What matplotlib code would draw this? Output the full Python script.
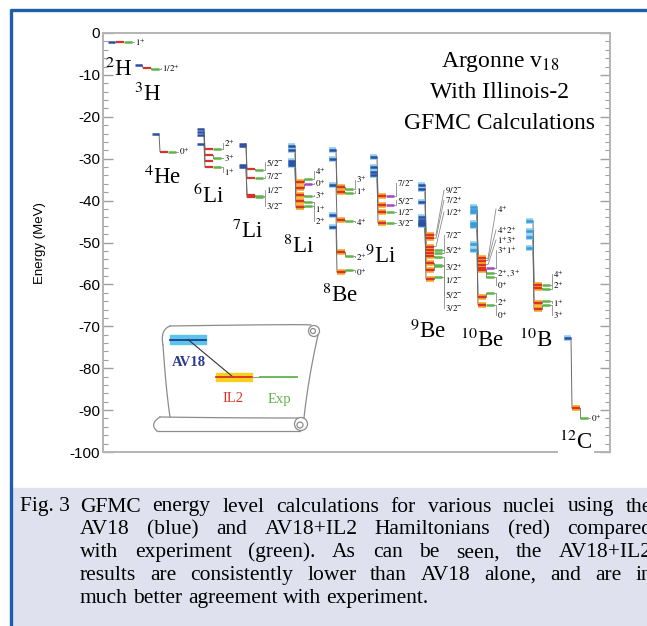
import re
import numpy as np
import matplotlib
matplotlib.use("Agg")
import matplotlib.pyplot as plt
from matplotlib.patches import Rectangle, Circle

plt.rcParams["font.family"] = ["Liberation Serif", "DejaVu Serif"]
plt.rcParams["mathtext.fontset"] = "stix"
plt.rcParams["axes.unicode_minus"] = False

# energies in MeV: AV18 (blue), AV18+IL2 (red), experiment (green); None = not measured
H2_SPIN = ["1+"]
H2_AV18 = [-2.2]
H2_IL2 = [-2.2]
H2_EXP = [-2.2]

H3_SPIN = ["1/2+"]
H3_AV18 = [-7.6]
H3_IL2 = [-8.3]
H3_EXP = [-8.5]

HE4_SPIN = ["0+"]
HE4_AV18 = [-24.1]
HE4_IL2 = [-28.3]
HE4_EXP = [-28.3]

LI6_SPIN = ["2+", "3+", "", "1+"]
LI6_AV18 = [-23.0, -23.7, -24.4, -26.6]
LI6_IL2 = [-27.8, -29.2, -30.6, -32.0]
LI6_EXP = [-27.7, -29.8, None, -32.0]

LI7_SPIN = ["5/2-", "7/2-", "1/2-", "3/2-"]
LI7_AV18 = [-26.4, -27.0, -31.6, -32.0]
LI7_IL2 = [-32.4, -34.5, -38.6, -39.2]
LI7_EXP = [-32.6, -34.6, -38.8, -39.2]

LI8_SPIN = ["4+", "0+", "3+", "1+", "2+"]
LI8_AV18 = [-27.0, -28.0, -30.5, -31.0, -31.6]
LI8_IL2 = [-35.5, -37.0, -38.7, -40.2, -41.6]
LI8_EXP = [-34.8, -36.0, -39.0, -40.3, -41.3]

BE8_SPIN = ["3+", "1+", "4+", "2+", "0+"]
BE8_AV18 = [-27.9, -30.0, -36.3, -43.4, -46.3]
BE8_IL2 = [-36.8, -38.0, -44.6, -52.3, -57.0]
BE8_EXP = [-37.2, -38.3, -44.9, -53.3, -56.5]

LI9_SPIN = ["7/2-", "5/2-", "1/2-", "3/2-"]
LI9_AV18 = [-29.6, -32.0, -33.2, -33.9]
LI9_IL2 = [-39.0, -41.0, -42.8, -45.3]
LI9_EXP = [-39.0, -41.0, -42.7, -45.3]

BE9_SPIN = ["9/2-", "7/2+", "1/2+", "7/2-", "5/2+", "3/2+", "1/2-", "5/2-", "3/2-"]
BE9_AV18 = [-36.3, -37.2, -40.3, -44.0, -44.6, -45.0, -45.3, -45.5, -45.8]
BE9_IL2 = [-48.2, -49.0, -51.0, -51.8, -52.4, -53.2, -55.0, -56.6, -58.7]
BE9_EXP = [None, None, None, -51.8, -52.6, -53.5, -55.4, -55.7, -58.2]

BE10_SPIN = ["4+", "4+2+", "1+3+", "3+1+", "2+,3+", "0+", "2+", "0+"]
BE10_AV18 = [-41.5, -42.3, -42.8, -45.3, -45.6, -46.0, -50.3, -51.8]
BE10_IL2 = [-53.8, -54.3, -55.3, -56.0, -56.3, -56.6, -63.0, -64.8]
BE10_EXP = [None, None, None, -56.0, -57.3, -58.3, -62.0, -65.0]

B10_SPIN = ["4+", "2+", "1+", "3+"]
B10_AV18 = [-44.9, -47.2, -48.7, -51.3]
B10_IL2 = [-60.1, -60.9, -64.4, -65.8]
B10_EXP = [-60.1, -61.2, -64.0, -64.8]

C12_SPIN = ["0+"]
C12_AV18 = [-72.8]
C12_IL2 = [-89.5]
C12_EXP = [-91.9]

NUCLEI = [
    ("2H", r"$^{2}$H", H2_SPIN, H2_AV18, H2_IL2, H2_EXP),
    ("3H", r"$^{3}$H", H3_SPIN, H3_AV18, H3_IL2, H3_EXP),
    ("4He", r"$^{4}$He", HE4_SPIN, HE4_AV18, HE4_IL2, HE4_EXP),
    ("6Li", r"$^{6}$Li", LI6_SPIN, LI6_AV18, LI6_IL2, LI6_EXP),
    ("7Li", r"$^{7}$Li", LI7_SPIN, LI7_AV18, LI7_IL2, LI7_EXP),
    ("8Li", r"$^{8}$Li", LI8_SPIN, LI8_AV18, LI8_IL2, LI8_EXP),
    ("8Be", r"$^{8}$Be", BE8_SPIN, BE8_AV18, BE8_IL2, BE8_EXP),
    ("9Li", r"$^{9}$Li", LI9_SPIN, LI9_AV18, LI9_IL2, LI9_EXP),
    ("9Be", r"$^{9}$Be", BE9_SPIN, BE9_AV18, BE9_IL2, BE9_EXP),
    ("10Be", r"$^{10}$Be", BE10_SPIN, BE10_AV18, BE10_IL2, BE10_EXP),
    ("10B", r"$^{10}$B", B10_SPIN, B10_AV18, B10_IL2, B10_EXP),
    ("12C", r"$^{12}$C", C12_SPIN, C12_AV18, C12_IL2, C12_EXP),
]

# layout: column x (pixels), where spin labels and nucleus names sit (energy)
COL_X = {"2H": 108, "3H": 135, "4He": 152, "6Li": 197, "7Li": 239, "8Li": 288,
         "8Be": 329, "9Li": 370, "9Be": 418, "10Be": 470, "10B": 526, "12C": 564}
LABEL_E = {
    "2H": [-2.2], "3H": [-8.4], "4He": [-28.3],
    "6Li": [-26.3, -29.8, None, -33.2],
    "7Li": [-30.8, -34.1, -37.5, -41.3],
    "8Li": [-32.9, -35.8, -38.7, -42.0, -44.9],
    "8Be": [-35.0, -37.7, -45.1, -53.5, -57.0],
    "9Li": [-35.8, -39.9, -42.7, -45.3],
    "9Be": [-37.5, -39.9, -42.7, -48.2, -51.8, -55.8, -58.9, -62.5, -65.6],
    "10Be": [-42.0, -47.0, -49.4, -51.8, -57.3, -60.1, -64.2, -67.3],
    "10B": [-57.6, -60.3, -64.4, -67.3],
    "12C": [-91.9],
}
NAME_POS = {"2H": (119, -8.8), "3H": (148, -14.6), "4He": (163, -34.4),
            "6Li": (209, -38.9), "7Li": (248, -47.3), "8Li": (299, -50.9),
            "8Be": (340, -62.6), "9Li": (381, -53.3), "9Be": (428, -71.2),
            "10Be": (482, -73.3), "10B": (536, -73.3), "12C": (576, -97.6)}
PURPLE = {"8Li": [1], "9Li": [0, 1], "10Be": [3]}
HEAVY = ["8Li", "8Be", "9Li", "9Be", "10Be", "10B", "12C"]

BLUE = "#2c4fa3"
LBLUE = "#3a9ad8"
RED = "#d8322a"
GREEN = "#5db548"
PURP = "#a445c4"
GRAY = "#6a6a6a"


def spin_tex(s):
    return "$" + re.sub(r"([+-])", r"^{\1}", s) + "$"


fig = plt.figure(figsize=(6.47, 6.26), dpi=100)
ax = fig.add_axes([103 / 647, 1 - 452 / 626, 507 / 647, 419 / 626])
ax.set_xlim(103, 610)
ax.set_ylim(-100, 0)

for key, name, spins, av, il, ex in NUCLEI:
    x0 = COL_X[key]
    xr, xg, xl = x0 + 8, x0 + 16, x0 + 27
    heavy = key in HEAVY
    bcol = LBLUE if key in ("10Be", "10B") else BLUE
    for i, s in enumerate(spins):
        eb, er, eg = av[i], il[i], ex[i]
        ax.plot([x0 + 7, xr], [eb, er], color=GRAY, lw=0.7, zorder=2)
        if heavy:
            ax.hlines(eb, x0, x0 + 7, color="#8ccdf0", lw=4, zorder=3)
            ax.hlines(er, xr, xr + 8, color="#f6a623", lw=4, zorder=3)
        ax.hlines(eb, x0, x0 + 7, color=bcol, lw=1.8, zorder=4)
        ax.hlines(er, xr, xr + 8, color=RED, lw=1.6, zorder=4)
        ex_end, ee = xr + 8, er
        if eg is not None:
            gcol = PURP if i in PURPLE.get(key, []) else GREEN
            ax.plot([xr + 8, xg], [er, eg], color=GRAY, lw=0.6, zorder=2)
            ax.hlines(eg, xg, xg + 8, color=gcol, lw=1.8, zorder=4)
            ex_end, ee = xg + 8, eg
        if s:
            le = LABEL_E[key][i]
            ax.plot([ex_end, ex_end + 2, xl - 1], [ee, ee, le], color="#8a8a8a",
                    lw=0.6, zorder=2)
            ax.text(xl, le, spin_tex(s), fontsize=6.5, va="center", ha="left")
    nx, ny = NAME_POS[key]
    bb = dict(facecolor="white", edgecolor="none", pad=1) if key == "12C" else None
    ax.text(nx, ny, name, fontsize=16.5, ha="center", va="center", bbox=bb,
            clip_on=False, zorder=6)

ax.text(500, -7.0, r"Argonne v$_{18}$", fontsize=17, ha="center", va="center")
ax.text(500, -14.2, "With Illinois-2", fontsize=17, ha="center", va="center")
ax.text(500, -21.5, "GFMC Calculations", fontsize=17, ha="center", va="center")

for sp in ax.spines.values():
    sp.set_color("#b4b4b4")
    sp.set_linewidth(1.4)
ax.set_xticks([])
ax.set_yticks(np.arange(-100, 1, 10))
ax.set_yticks(np.arange(-100, 1, 2), minor=True)
ax.tick_params(axis="y", which="both", direction="in", left=True, right=True,
               color="#a0a0a0")
ax.tick_params(axis="y", which="major", length=7, width=1.0, labelsize=11, pad=2)
ax.tick_params(axis="y", which="minor", length=3.5, width=0.8)
for t in ax.get_yticklabels():
    t.set_fontfamily("Liberation Sans")

# overlay in pixel units for frame, caption and the legend scroll
fax = fig.add_axes([0, 0, 1, 1])
fax.set_xlim(0, 647)
fax.set_ylim(626, 0)
fax.axis("off")
fax.patch.set_visible(False)

fax.add_patch(Rectangle((12, 488), 640, 140, color="#dfe2ee", zorder=0))
fax.plot([11, 11], [9, 626], color="#1d5ea8", lw=2.4, solid_capstyle="butt")
fax.plot([10, 647], [10, 10], color="#1d5ea8", lw=2.4, solid_capstyle="butt")
fax.text(40, 243, "Energy (MeV)", rotation=90, fontsize=9.5, ha="center",
         va="center", family="Liberation Sans")


def bez(p0, p1, p2, n=30):
    t = np.linspace(0, 1, n)[:, None]
    pts = (1 - t) ** 2 * np.array(p0) + 2 * (1 - t) * t * np.array(p1) + t ** 2 * np.array(p2)
    return pts[:, 0], pts[:, 1]


sc = "#8c8c8c"
for seg in [((170, 326), (308, 324), (311, 325)),
            ((170, 326), (160, 330), (163, 345)),
            ((163, 345), (166, 390), (170, 417)),
            ((318, 335), (308, 380), (304, 418)),
            ((160, 417), (230, 418), (298, 418)),
            ((157, 431), (230, 431), (300, 431)),
            ((160, 417), (149, 424), (157, 431))]:
    xs, ys = bez(*seg)
    fax.plot(xs, ys, color=sc, lw=0.9)
for c, r in [((314, 331), 5.5), ((313, 331), 2.5), ((301, 424), 6.5), ((300, 425), 3)]:
    fax.add_patch(Circle(c, r, fill=False, edgecolor=sc, lw=0.9))

fax.add_patch(Rectangle((170, 335), 36, 9, color="#5cc3ea", zorder=2))
fax.plot([170, 206], [339.5, 339.5], color="#1c3f90", lw=1.3, zorder=3)
fax.plot([188, 233], [339.5, 377], color="#333333", lw=0.8, zorder=3)
fax.add_patch(Rectangle((216, 373), 36, 8, color="#f6d21c", zorder=2))
fax.plot([216, 252], [377, 377], color=RED, lw=1.3, zorder=3)
fax.plot([252, 260], [377, 377], color="#999999", lw=0.8, zorder=3)
fax.plot([260, 297], [377, 377], color=GREEN, lw=1.3, zorder=3)
fax.text(189, 362, "AV18", color="#2a3a8c", fontsize=10.5, weight="bold",
         ha="center", va="center")
fax.text(233, 399, "IL2", color=RED, fontsize=10.5, ha="center", va="center")
fax.text(279, 399, "Exp", color=GREEN, fontsize=10.5, ha="center", va="center")

# caption, justified like the printed page
CAPTION = [
    "GFMC energy level calculations for various nuclei using the",
    "AV18 (blue) and AV18+IL2 Hamiltonians (red) compared",
    "with experiment (green). As can be seen, the AV18+IL2",
    "results are consistently lower than AV18 alone, and are in",
    "much better agreement with experiment.",
]
fs_cap = 15.5
fax.text(20, 507, "Fig. 3", fontsize=fs_cap, va="center", ha="left")
renderer = fig.canvas.get_renderer()
for k, line in enumerate(CAPTION):
    y = 507 + k * 22.8
    words = line.split()
    texts = [fax.text(0, y, w, fontsize=fs_cap, va="center", ha="left") for w in words]
    widths = [t.get_window_extent(renderer).width for t in texts]
    if k < len(CAPTION) - 1:
        gap = max((652 - 80 - sum(widths)) / (len(words) - 1), 3.0)
    else:
        gap = fs_cap * 100 / 72 * 0.25
    x = 80
    for t, w in zip(texts, widths):
        t.set_x(x)
        x += w + gap

fig.savefig("out.png", dpi=100)
